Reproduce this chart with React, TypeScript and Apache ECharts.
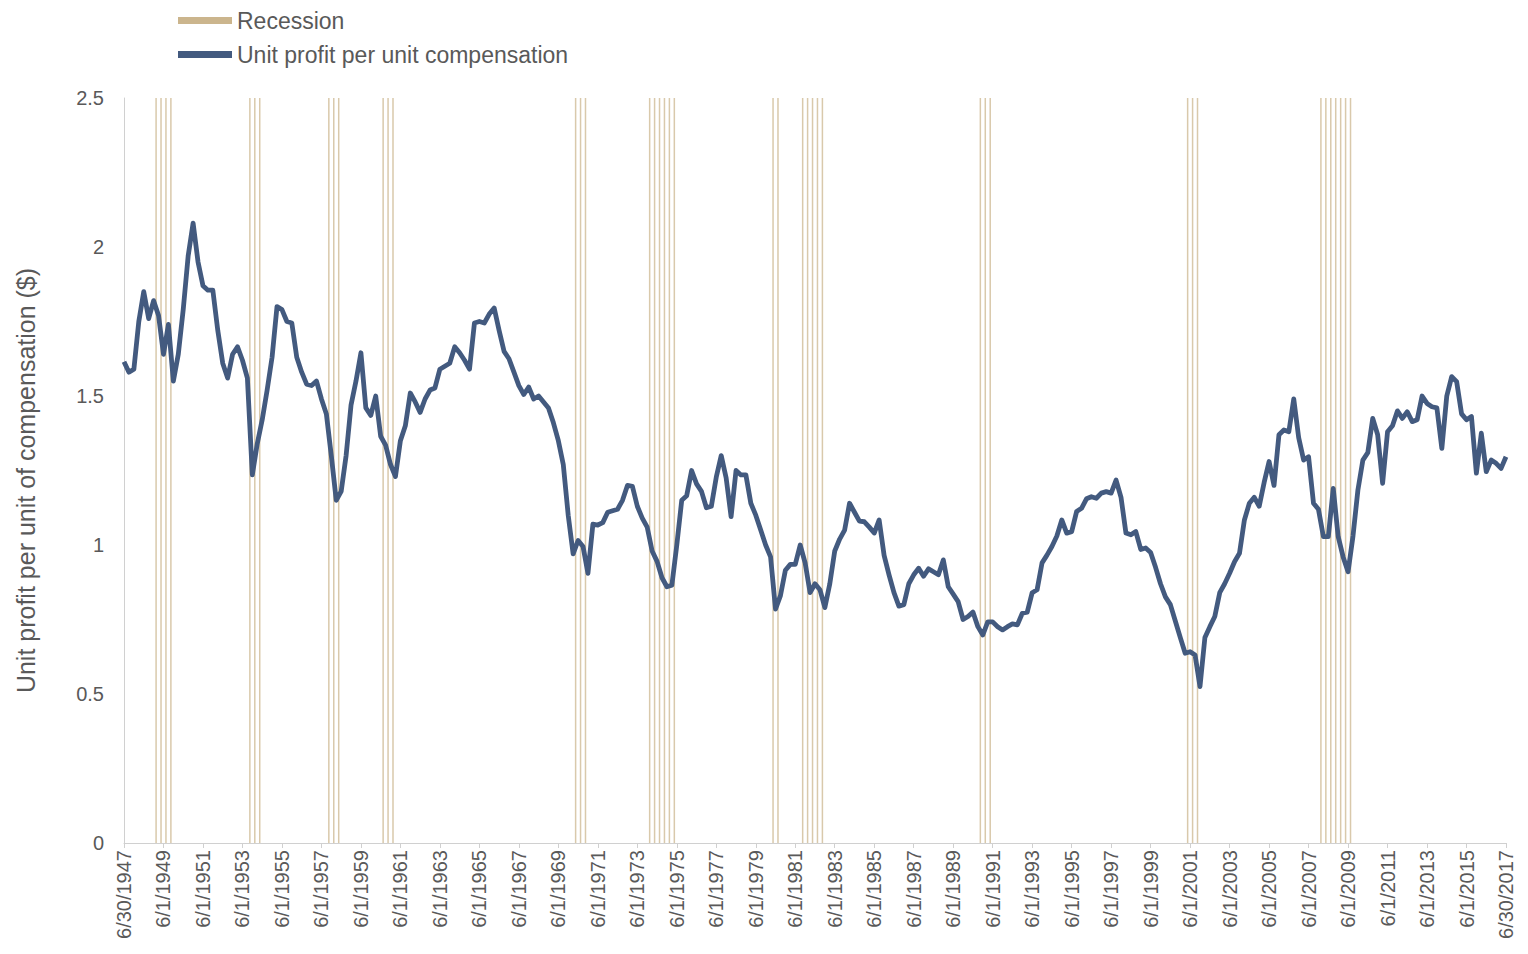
import React, { useEffect, useRef } from "react";
import * as echarts from "echarts";

// Quarterly observations, 6/30/1947 .. 6/30/2017 (281 points)
const profitPerComp: number[] = [
  1.615, 1.58, 1.59, 1.75, 1.85, 1.76, 1.82, 1.77, 1.64, 1.74,
  1.55, 1.64, 1.79, 1.97, 2.08, 1.95, 1.87, 1.855, 1.855, 1.72,
  1.61, 1.56, 1.64, 1.665, 1.62, 1.56, 1.235, 1.34, 1.42, 1.52,
  1.63, 1.8, 1.79, 1.75, 1.745, 1.63, 1.58, 1.54, 1.535, 1.55,
  1.49, 1.44, 1.3, 1.15, 1.18, 1.3, 1.47, 1.55, 1.645, 1.46,
  1.435, 1.5, 1.365, 1.335, 1.27, 1.23, 1.35, 1.4, 1.51, 1.48,
  1.445, 1.49, 1.52, 1.527, 1.59, 1.6, 1.61, 1.665, 1.645, 1.62,
  1.59, 1.745, 1.75, 1.745, 1.775, 1.795, 1.72, 1.65, 1.625, 1.58,
  1.535, 1.505, 1.53, 1.49, 1.5, 1.48, 1.46, 1.41, 1.35, 1.27,
  1.1, 0.97, 1.015, 0.995, 0.905, 1.07, 1.067, 1.075, 1.11, 1.115,
  1.12, 1.15, 1.2, 1.197, 1.13, 1.09, 1.06, 0.98, 0.945, 0.89,
  0.86, 0.865, 1.0, 1.15, 1.165, 1.25, 1.205, 1.18, 1.125, 1.13,
  1.228, 1.3, 1.225, 1.095, 1.25, 1.235, 1.235, 1.14, 1.1, 1.05,
  1.0, 0.96, 0.785, 0.83, 0.915, 0.935, 0.935, 1.0, 0.94, 0.84,
  0.87, 0.85, 0.79, 0.87, 0.98, 1.02, 1.05, 1.14, 1.11, 1.08,
  1.078, 1.06, 1.04, 1.084, 0.965, 0.9, 0.84, 0.795, 0.8, 0.87,
  0.9, 0.922, 0.895, 0.92, 0.91, 0.9, 0.95, 0.86, 0.835, 0.81,
  0.75, 0.76, 0.775, 0.726, 0.698, 0.742, 0.742, 0.726, 0.715, 0.726,
  0.735, 0.732, 0.771, 0.775, 0.84, 0.85, 0.94, 0.966, 0.995, 1.03,
  1.084, 1.04, 1.045, 1.112, 1.123, 1.155, 1.162, 1.157, 1.174, 1.179,
  1.174, 1.218, 1.16, 1.04, 1.034, 1.045, 0.985, 0.99, 0.975, 0.925,
  0.87, 0.826, 0.8, 0.745, 0.69, 0.637, 0.642, 0.631, 0.525, 0.69,
  0.726, 0.76, 0.84, 0.87, 0.905, 0.944, 0.972, 1.084, 1.14, 1.16,
  1.13, 1.21, 1.28, 1.2, 1.37, 1.386, 1.38, 1.49, 1.36, 1.285,
  1.296, 1.14, 1.12, 1.028, 1.028, 1.19, 1.028, 0.96, 0.91, 1.03,
  1.185, 1.285, 1.31, 1.425, 1.37, 1.207, 1.38, 1.4, 1.45, 1.425,
  1.447, 1.414, 1.42, 1.5, 1.475, 1.464, 1.46, 1.324, 1.5, 1.565,
  1.548, 1.44, 1.42, 1.431, 1.241, 1.375, 1.246, 1.285, 1.274, 1.257,
  1.296,
];

// Quarter slots (0 = quarter after 6/30/1947) flagged as recession
const recessionQuarters: number[] = [
  6, 7, 8, 9,
  25, 26, 27,
  41, 42, 43,
  52, 53, 54,
  91, 92, 93,
  106, 107, 108, 109, 110, 111,
  131, 132,
  137, 138, 139, 140, 141,
  173, 174, 175,
  215, 216, 217,
  242, 243, 244, 245, 246, 247, 248,
];

const firstYear = 1947;
const quarterMonths = [6, 9, 12, 3];

const categories: string[] = profitPerComp.map((_, i) => {
  const m = quarterMonths[i % 4];
  const y = firstYear + Math.floor((i + 1) / 4);
  if (i === 0 || i === profitPerComp.length - 1) return `${m}/30/${y}`;
  return `${m}/1/${y}`;
});
const recessionCategories: string[] = categories.slice(0, categories.length - 1);

const Y_MAX = 2.5;

export default function App() {
  const ref = useRef<HTMLDivElement>(null);
  useEffect(() => {
    if (!ref.current) return;
    const chart = echarts.init(ref.current, undefined, { renderer: "svg" });
    const recessionData = recessionCategories.map((_, i) =>
      recessionQuarters.includes(i) ? Y_MAX : "-"
    );
    const labelFont = "'Liberation Sans', Arial, sans-serif";
    chart.setOption({
      animation: false,
      backgroundColor: "#ffffff",
      textStyle: { fontFamily: labelFont },
      grid: { left: 124, right: 22, top: 98, bottom: 111, containLabel: false },
      legend: {
        orient: "vertical",
        left: 173,
        top: 4,
        itemWidth: 54,
        itemHeight: 7,
        itemGap: 11,
        textStyle: { fontSize: 23, color: "#595959", fontFamily: labelFont },
        data: [
          { name: "Recession", icon: "rect", itemStyle: { color: "#cbb58d" } },
          { name: "Unit profit per unit compensation", icon: "rect" },
        ],
      },
      xAxis: [
        {
          type: "category",
          data: categories,
          boundaryGap: false,
          axisLine: { lineStyle: { color: "#d0d0d0", width: 1 } },
          axisTick: {
            show: true,
            length: 5,
            interval: (i: number) => i % 8 === 0,
            lineStyle: { color: "#d0d0d0" },
          },
          axisLabel: {
            interval: (i: number) => i % 8 === 0,
            rotate: 90,
            fontSize: 20,
            color: "#595959",
            margin: 7,
            fontFamily: labelFont,
          },
          splitLine: { show: false },
        },
        {
          type: "category",
          data: recessionCategories,
          boundaryGap: true,
          show: false,
        },
      ],
      yAxis: {
        type: "value",
        min: 0,
        max: Y_MAX,
        interval: 0.5,
        name: "Unit profit per unit of compensation ($)",
        nameLocation: "middle",
        nameGap: 86,
        nameTextStyle: {
          fontSize: 25,
          color: "#595959",
          fontFamily: labelFont,
          padding: [0, 20, 0, 0],
        },
        axisLine: { show: true, lineStyle: { color: "#d0d0d0" } },
        axisTick: { show: false },
        axisLabel: { fontSize: 20, color: "#595959", margin: 20, fontFamily: labelFont },
        splitLine: { show: false },
      },
      series: [
        {
          name: "Recession",
          type: "bar",
          xAxisIndex: 1,
          data: recessionData,
          barWidth: 1.5,
          itemStyle: { color: "#d9c9ab" },
          z: 1,
        },
        {
          name: "Unit profit per unit compensation",
          type: "line",
          xAxisIndex: 0,
          data: profitPerComp,
          showSymbol: false,
          symbol: "none",
          itemStyle: { color: "#435a7f" },
          lineStyle: { color: "#435a7f", width: 4.8, join: "round" },
          z: 3,
        },
      ],
    });
    return () => chart.dispose();
  }, []);
  return (
    <div
      ref={ref}
      style={{ position: "fixed", left: 0, top: 0, width: 1528, height: 954 }}
    />
  );
}
